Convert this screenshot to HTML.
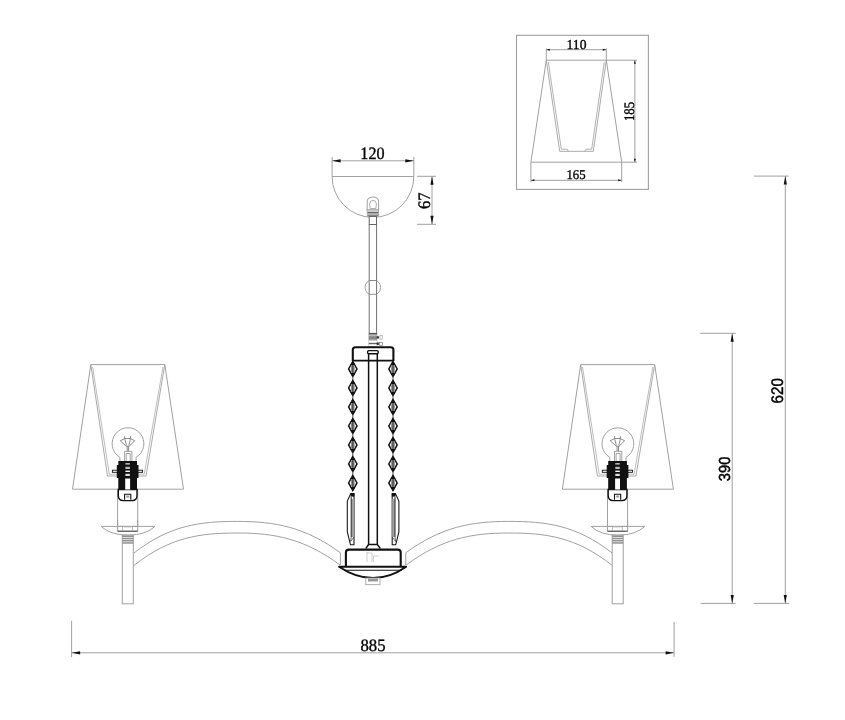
<!DOCTYPE html>
<html><head><meta charset="utf-8"><style>
html,body{margin:0;padding:0;background:#fff;width:845px;height:720px;overflow:hidden}
svg{display:block;will-change:transform}
</style></head><body>
<svg width="845" height="720" viewBox="0 0 845 720">
<rect x="516.5" y="35.3" width="131.9" height="154.1" fill="none" stroke="#a0a0a0" stroke-width="1.1"/>
<line x1="546.3" y1="60.2" x2="606.3" y2="60.2" stroke="#a0a0a0" stroke-width="1"/>
<line x1="530.9" y1="162.2" x2="621.7" y2="162.2" stroke="#a0a0a0" stroke-width="1"/>
<line x1="546.3" y1="60.2" x2="530.9" y2="162.2" stroke="#a0a0a0" stroke-width="1"/>
<line x1="606.3" y1="60.2" x2="621.7" y2="162.2" stroke="#a0a0a0" stroke-width="1"/>
<path d="M546.3,60.2 L559.7,151.3 L593.3,151.3 L606.3,60.2" fill="none" stroke="#a0a0a0" stroke-width="0.9"/>
<path d="M548.3,62 L561.3,149.2 L567.3,149.2 L568.3,151.3 M584.8,151.3 L585.8,149.2 L591.7,149.2 L604.3,62" fill="none" stroke="#a0a0a0" stroke-width="0.8"/>
<line x1="546.3" y1="49.7" x2="606.3" y2="49.7" stroke="#a0a0a0" stroke-width="1"/>
<line x1="546.3" y1="48.3" x2="546.3" y2="60.2" stroke="#a0a0a0" stroke-width="1"/>
<line x1="606.3" y1="48.3" x2="606.3" y2="60.2" stroke="#a0a0a0" stroke-width="1"/>
<path d="M546.3,49.7 L549.8,48.7 L549.8,50.7 Z" fill="#111"/>
<path d="M606.3,49.7 L602.8,48.7 L602.8,50.7 Z" fill="#111"/>
<line x1="530.9" y1="180.3" x2="621.7" y2="180.3" stroke="#a0a0a0" stroke-width="1"/>
<line x1="530.9" y1="162.2" x2="530.9" y2="182" stroke="#a0a0a0" stroke-width="1"/>
<line x1="621.7" y1="162.2" x2="621.7" y2="182" stroke="#a0a0a0" stroke-width="1"/>
<path d="M530.9,180.3 L534.4,179.3 L534.4,181.3 Z" fill="#111"/>
<path d="M621.7,180.3 L618.2,179.3 L618.2,181.3 Z" fill="#111"/>
<line x1="606.3" y1="60.2" x2="637" y2="60.2" stroke="#a0a0a0" stroke-width="1"/>
<line x1="621.7" y1="162.2" x2="637" y2="162.2" stroke="#a0a0a0" stroke-width="1"/>
<line x1="634.9" y1="60.2" x2="634.9" y2="162.2" stroke="#a0a0a0" stroke-width="1"/>
<path d="M634.9,60.2 L633.9,63.7 L635.9,63.7 Z" fill="#111"/>
<path d="M634.9,162.2 L633.9,158.7 L635.9,158.7 Z" fill="#111"/>
<line x1="332.1" y1="176.5" x2="413.8" y2="176.5" stroke="#a0a0a0" stroke-width="1"/>
<path d="M332.1,176.5 A40.85,40.85 0 1 0 413.8,176.5" fill="none" stroke="#a0a0a0" stroke-width="1"/>
<line x1="332.1" y1="160.8" x2="413.8" y2="160.8" stroke="#a0a0a0" stroke-width="1"/>
<line x1="332.1" y1="157" x2="332.1" y2="176.5" stroke="#a0a0a0" stroke-width="1"/>
<line x1="413.8" y1="157" x2="413.8" y2="176.5" stroke="#a0a0a0" stroke-width="1"/>
<path d="M332.1,160.8 L340.6,159.20000000000002 L340.6,162.4 Z" fill="#111"/>
<path d="M413.8,160.8 L405.3,159.20000000000002 L405.3,162.4 Z" fill="#111"/>
<line x1="432" y1="176.3" x2="432" y2="224.3" stroke="#a0a0a0" stroke-width="1"/>
<line x1="417" y1="176.3" x2="436" y2="176.3" stroke="#a0a0a0" stroke-width="1"/>
<line x1="417" y1="224.3" x2="436" y2="224.3" stroke="#a0a0a0" stroke-width="1"/>
<path d="M432,176.3 L430.4,184.8 L433.6,184.8 Z" fill="#111"/>
<path d="M432,224.3 L430.4,215.8 L433.6,215.8 Z" fill="#111"/>
<path d="M367.2,211 L367.2,201 Q367.2,198.5 370,197.5 L373,196.8 L376,197.5 Q378.6,198.5 378.6,201 L378.6,211 Z" fill="#fff" stroke="#a0a0a0" stroke-width="1"/>
<path d="M370.2,208.6 L369.6,204 Q369.8,200.4 373,200.4 Q376.2,200.4 376.4,204 L375.8,208.6 Z" fill="none" stroke="#a0a0a0" stroke-width="0.9"/>
<rect x="367.2" y="209.5" width="11.4" height="6.8" fill="#fff" stroke="#a0a0a0" stroke-width="0.8"/>
<line x1="367.6" y1="211.0" x2="378.2" y2="211.0" stroke="#999" stroke-width="1.0"/>
<line x1="367.6" y1="212.5" x2="378.2" y2="212.5" stroke="#6a6a6a" stroke-width="1.0"/>
<line x1="367.6" y1="213.9" x2="378.2" y2="213.9" stroke="#777" stroke-width="1.0"/>
<line x1="367.6" y1="215.3" x2="378.2" y2="215.3" stroke="#6a6a6a" stroke-width="1.0"/>
<rect x="372" y="220" width="1.5" height="1.5" fill="#999"/>
<rect x="369.2" y="216.5" width="7.3" height="8" fill="#fff" stroke="#666" stroke-width="1"/>
<circle cx="372.8" cy="287.4" r="7.8" fill="#fff" stroke="#a0a0a0" stroke-width="1"/>
<rect x="369.7" y="278" width="6.4" height="2.5" fill="#fff"/>
<rect x="369.7" y="294.6" width="6.4" height="2" fill="#fff"/>
<line x1="369.2" y1="224.5" x2="369.2" y2="333" stroke="#707070" stroke-width="1"/>
<line x1="376.6" y1="224.5" x2="376.6" y2="333" stroke="#707070" stroke-width="1"/>
<line x1="369.2" y1="280.5" x2="376.6" y2="280.5" stroke="#888" stroke-width="1"/>
<line x1="369.2" y1="294.3" x2="376.6" y2="294.3" stroke="#999" stroke-width="1"/>
<rect x="368.8" y="333" width="8.2" height="13.5" fill="#fff" stroke="#bbb" stroke-width="0.6"/>
<rect x="368.8" y="333" width="8.2" height="1.6" fill="#555"/>
<rect x="368.8" y="335.5" width="8.2" height="1.3" fill="#777"/>
<rect x="368.8" y="337.3" width="8.2" height="1.4" fill="#555"/>
<rect x="368.8" y="339.2" width="8.2" height="1.2" fill="#888"/>
<rect x="368.8" y="342.8" width="8.2" height="1.4" fill="#666"/>
<rect x="376.8" y="336.3" width="2.2" height="2.2" fill="#333"/>
<rect x="380" y="335.2" width="2.2" height="4" fill="none" stroke="#999" stroke-width="0.6"/>
<rect x="376.8" y="342.5" width="2" height="2.4" fill="#222"/>
<rect x="379.5" y="342.3" width="3" height="3" fill="none" stroke="#777" stroke-width="0.7"/>
<path d="M352.8,361 L352.8,349.8 Q352.8,347.2 355.4,347.2 L390.8,347.2 Q393.4,347.2 393.4,349.8 L393.4,361" fill="none" stroke="#111" stroke-width="2.1"/>
<line x1="352.8" y1="360.6" x2="393.4" y2="360.6" stroke="#111" stroke-width="1.6"/>
<rect x="367.6" y="350.6" width="10.6" height="3.2" rx="1.2" fill="#fff" stroke="#111" stroke-width="1.4"/>
<line x1="368.6" y1="354" x2="368.6" y2="546" stroke="#111" stroke-width="1.5"/>
<line x1="377.3" y1="354" x2="377.3" y2="546" stroke="#111" stroke-width="1.5"/>
<path d="M352.8,361.5 L357.0,368.9 L352.8,376.5 L348.6,368.9 Z" fill="#fff" stroke="#111" stroke-width="1.5" stroke-linejoin="miter"/>
<ellipse cx="352.8" cy="368.9" rx="1.9" ry="4.8" fill="#8a8a8a"/>
<rect x="352.2" y="364.9" width="1.2" height="8" fill="#444"/>
<path d="M352.8,361.0 L355.2,364.9 L350.40000000000003,364.9 Z" fill="#111"/>
<path d="M352.8,377.0 L355.2,373.1 L350.40000000000003,373.1 Z" fill="#111"/>
<line x1="352.8" y1="376.5" x2="352.8" y2="380.3" stroke="#666" stroke-width="1.1"/>
<path d="M352.8,380.5 L357.0,387.9 L352.8,395.5 L348.6,387.9 Z" fill="#fff" stroke="#111" stroke-width="1.5" stroke-linejoin="miter"/>
<ellipse cx="352.8" cy="387.9" rx="1.9" ry="4.8" fill="#8a8a8a"/>
<rect x="352.2" y="383.9" width="1.2" height="8" fill="#444"/>
<path d="M352.8,380.0 L355.2,383.9 L350.40000000000003,383.9 Z" fill="#111"/>
<path d="M352.8,396.0 L355.2,392.1 L350.40000000000003,392.1 Z" fill="#111"/>
<line x1="352.8" y1="395.5" x2="352.8" y2="399.3" stroke="#666" stroke-width="1.1"/>
<path d="M352.8,399.5 L357.0,406.9 L352.8,414.5 L348.6,406.9 Z" fill="#fff" stroke="#111" stroke-width="1.5" stroke-linejoin="miter"/>
<ellipse cx="352.8" cy="406.9" rx="1.9" ry="4.8" fill="#8a8a8a"/>
<rect x="352.2" y="402.9" width="1.2" height="8" fill="#444"/>
<path d="M352.8,399.0 L355.2,402.9 L350.40000000000003,402.9 Z" fill="#111"/>
<path d="M352.8,415.0 L355.2,411.1 L350.40000000000003,411.1 Z" fill="#111"/>
<line x1="352.8" y1="414.5" x2="352.8" y2="418.3" stroke="#666" stroke-width="1.1"/>
<path d="M352.8,418.5 L357.0,425.9 L352.8,433.5 L348.6,425.9 Z" fill="#fff" stroke="#111" stroke-width="1.5" stroke-linejoin="miter"/>
<ellipse cx="352.8" cy="425.9" rx="1.9" ry="4.8" fill="#8a8a8a"/>
<rect x="352.2" y="421.9" width="1.2" height="8" fill="#444"/>
<path d="M352.8,418.0 L355.2,421.9 L350.40000000000003,421.9 Z" fill="#111"/>
<path d="M352.8,434.0 L355.2,430.1 L350.40000000000003,430.1 Z" fill="#111"/>
<line x1="352.8" y1="433.5" x2="352.8" y2="437.3" stroke="#666" stroke-width="1.1"/>
<path d="M352.8,437.5 L357.0,444.9 L352.8,452.5 L348.6,444.9 Z" fill="#fff" stroke="#111" stroke-width="1.5" stroke-linejoin="miter"/>
<ellipse cx="352.8" cy="444.9" rx="1.9" ry="4.8" fill="#8a8a8a"/>
<rect x="352.2" y="440.9" width="1.2" height="8" fill="#444"/>
<path d="M352.8,437.0 L355.2,440.9 L350.40000000000003,440.9 Z" fill="#111"/>
<path d="M352.8,453.0 L355.2,449.1 L350.40000000000003,449.1 Z" fill="#111"/>
<line x1="352.8" y1="452.5" x2="352.8" y2="456.3" stroke="#666" stroke-width="1.1"/>
<path d="M352.8,456.5 L357.0,463.9 L352.8,471.5 L348.6,463.9 Z" fill="#fff" stroke="#111" stroke-width="1.5" stroke-linejoin="miter"/>
<ellipse cx="352.8" cy="463.9" rx="1.9" ry="4.8" fill="#8a8a8a"/>
<rect x="352.2" y="459.9" width="1.2" height="8" fill="#444"/>
<path d="M352.8,456.0 L355.2,459.9 L350.40000000000003,459.9 Z" fill="#111"/>
<path d="M352.8,472.0 L355.2,468.1 L350.40000000000003,468.1 Z" fill="#111"/>
<line x1="352.8" y1="471.5" x2="352.8" y2="475.3" stroke="#666" stroke-width="1.1"/>
<path d="M352.8,475.5 L357.0,482.9 L352.8,490.5 L348.6,482.9 Z" fill="#fff" stroke="#111" stroke-width="1.5" stroke-linejoin="miter"/>
<ellipse cx="352.8" cy="482.9" rx="1.9" ry="4.8" fill="#8a8a8a"/>
<rect x="352.2" y="478.9" width="1.2" height="8" fill="#444"/>
<path d="M352.8,475.0 L355.2,478.9 L350.40000000000003,478.9 Z" fill="#111"/>
<path d="M352.8,491.0 L355.2,487.1 L350.40000000000003,487.1 Z" fill="#111"/>
<path d="M393.0,361.5 L397.2,368.9 L393.0,376.5 L388.8,368.9 Z" fill="#fff" stroke="#111" stroke-width="1.5" stroke-linejoin="miter"/>
<ellipse cx="393.0" cy="368.9" rx="1.9" ry="4.8" fill="#8a8a8a"/>
<rect x="392.4" y="364.9" width="1.2" height="8" fill="#444"/>
<path d="M393.0,361.0 L395.4,364.9 L390.6,364.9 Z" fill="#111"/>
<path d="M393.0,377.0 L395.4,373.1 L390.6,373.1 Z" fill="#111"/>
<line x1="393.0" y1="376.5" x2="393.0" y2="380.3" stroke="#666" stroke-width="1.1"/>
<path d="M393.0,380.5 L397.2,387.9 L393.0,395.5 L388.8,387.9 Z" fill="#fff" stroke="#111" stroke-width="1.5" stroke-linejoin="miter"/>
<ellipse cx="393.0" cy="387.9" rx="1.9" ry="4.8" fill="#8a8a8a"/>
<rect x="392.4" y="383.9" width="1.2" height="8" fill="#444"/>
<path d="M393.0,380.0 L395.4,383.9 L390.6,383.9 Z" fill="#111"/>
<path d="M393.0,396.0 L395.4,392.1 L390.6,392.1 Z" fill="#111"/>
<line x1="393.0" y1="395.5" x2="393.0" y2="399.3" stroke="#666" stroke-width="1.1"/>
<path d="M393.0,399.5 L397.2,406.9 L393.0,414.5 L388.8,406.9 Z" fill="#fff" stroke="#111" stroke-width="1.5" stroke-linejoin="miter"/>
<ellipse cx="393.0" cy="406.9" rx="1.9" ry="4.8" fill="#8a8a8a"/>
<rect x="392.4" y="402.9" width="1.2" height="8" fill="#444"/>
<path d="M393.0,399.0 L395.4,402.9 L390.6,402.9 Z" fill="#111"/>
<path d="M393.0,415.0 L395.4,411.1 L390.6,411.1 Z" fill="#111"/>
<line x1="393.0" y1="414.5" x2="393.0" y2="418.3" stroke="#666" stroke-width="1.1"/>
<path d="M393.0,418.5 L397.2,425.9 L393.0,433.5 L388.8,425.9 Z" fill="#fff" stroke="#111" stroke-width="1.5" stroke-linejoin="miter"/>
<ellipse cx="393.0" cy="425.9" rx="1.9" ry="4.8" fill="#8a8a8a"/>
<rect x="392.4" y="421.9" width="1.2" height="8" fill="#444"/>
<path d="M393.0,418.0 L395.4,421.9 L390.6,421.9 Z" fill="#111"/>
<path d="M393.0,434.0 L395.4,430.1 L390.6,430.1 Z" fill="#111"/>
<line x1="393.0" y1="433.5" x2="393.0" y2="437.3" stroke="#666" stroke-width="1.1"/>
<path d="M393.0,437.5 L397.2,444.9 L393.0,452.5 L388.8,444.9 Z" fill="#fff" stroke="#111" stroke-width="1.5" stroke-linejoin="miter"/>
<ellipse cx="393.0" cy="444.9" rx="1.9" ry="4.8" fill="#8a8a8a"/>
<rect x="392.4" y="440.9" width="1.2" height="8" fill="#444"/>
<path d="M393.0,437.0 L395.4,440.9 L390.6,440.9 Z" fill="#111"/>
<path d="M393.0,453.0 L395.4,449.1 L390.6,449.1 Z" fill="#111"/>
<line x1="393.0" y1="452.5" x2="393.0" y2="456.3" stroke="#666" stroke-width="1.1"/>
<path d="M393.0,456.5 L397.2,463.9 L393.0,471.5 L388.8,463.9 Z" fill="#fff" stroke="#111" stroke-width="1.5" stroke-linejoin="miter"/>
<ellipse cx="393.0" cy="463.9" rx="1.9" ry="4.8" fill="#8a8a8a"/>
<rect x="392.4" y="459.9" width="1.2" height="8" fill="#444"/>
<path d="M393.0,456.0 L395.4,459.9 L390.6,459.9 Z" fill="#111"/>
<path d="M393.0,472.0 L395.4,468.1 L390.6,468.1 Z" fill="#111"/>
<line x1="393.0" y1="471.5" x2="393.0" y2="475.3" stroke="#666" stroke-width="1.1"/>
<path d="M393.0,475.5 L397.2,482.9 L393.0,490.5 L388.8,482.9 Z" fill="#fff" stroke="#111" stroke-width="1.5" stroke-linejoin="miter"/>
<ellipse cx="393.0" cy="482.9" rx="1.9" ry="4.8" fill="#8a8a8a"/>
<rect x="392.4" y="478.9" width="1.2" height="8" fill="#444"/>
<path d="M393.0,475.0 L395.4,478.9 L390.6,478.9 Z" fill="#111"/>
<path d="M393.0,491.0 L395.4,487.1 L390.6,487.1 Z" fill="#111"/>
<path d="M354,493.6 L350.8,493.6 L347.3,501 L347.3,532 L350.5,544.8 L354,544.8 Z" fill="#fff" stroke="#111" stroke-width="1.05"/>
<rect x="351.4" y="499" width="2.6" height="38" fill="#a0a0a0"/>
<line x1="351.2" y1="497" x2="351.2" y2="537" stroke="#111" stroke-width="0.9"/>
<path d="M351.2,537 L350.6,541.5 L354,537" fill="none" stroke="#333" stroke-width="0.7"/>
<rect x="350.6" y="493.4" width="3.8" height="3.2" fill="#111"/>
<path d="M392.2,493.6 L395.4,493.6 L398.9,501 L398.9,532 L395.7,544.8 L392.2,544.8 Z" fill="#fff" stroke="#111" stroke-width="1.05"/>
<rect x="392.2" y="499" width="2.6" height="38" fill="#a0a0a0"/>
<line x1="395.0" y1="497" x2="395.0" y2="537" stroke="#111" stroke-width="0.9"/>
<path d="M395.0,537 L395.6,541.5 L392.2,537" fill="none" stroke="#333" stroke-width="0.7"/>
<rect x="391.8" y="493.4" width="3.8" height="3.2" fill="#111"/>
<path d="M365.8,548.5 L368.6,544.5 L377.3,544.5 L380.4,548.5" fill="#fff" stroke="#111" stroke-width="1.4"/>
<path d="M345.9,567 L345.9,552.6 Q345.9,549.6 348.9,549.6 L397.7,549.6 Q400.7,549.6 400.7,552.6 L400.7,567" fill="none" stroke="#111" stroke-width="2.1"/>
<path d="M339,566.7 L406.2,566.7 Q390,578 373,578 Q356,578 339,566.7 Z" fill="#fff" stroke="#111" stroke-width="1.9" stroke-linejoin="round"/>
<line x1="344" y1="570.2" x2="402" y2="570.2" stroke="#111" stroke-width="1.1"/>
<rect x="365.8" y="578" width="14.2" height="6.7" fill="#fff" stroke="#999" stroke-width="0.8"/>
<rect x="368" y="578.5" width="10" height="3" fill="#999"/>
<path d="M367,552 L367,562 M367,553 L372,553 M372,553 L372,562 M373.5,556 L373.5,562 M373.5,556 L379,556" fill="none" stroke="#bbb" stroke-width="0.7"/>
<path d="M134,553 C170,525 200,521.4 237.7,521.4 C275,521.4 305,527 340,552.5" fill="none" stroke="#a0a0a0" stroke-width="1"/>
<path d="M134,565.4 C170,537 200,533 237.7,533 C275,533 305,539 340,565" fill="none" stroke="#a0a0a0" stroke-width="1"/>
<line x1="340.4" y1="552.5" x2="340.4" y2="565" stroke="#a0a0a0" stroke-width="1"/>
<path d="M612.2,553 C576.2,525 546.2,521.4 508.50000000000006,521.4 C471.20000000000005,521.4 441.20000000000005,527 406.20000000000005,552.5" fill="none" stroke="#a0a0a0" stroke-width="1"/>
<path d="M612.2,565.4 C576.2,537 546.2,533 508.50000000000006,533 C471.20000000000005,533 441.20000000000005,539 406.20000000000005,565" fill="none" stroke="#a0a0a0" stroke-width="1"/>
<line x1="405.80000000000007" y1="552.5" x2="405.80000000000007" y2="565" stroke="#a0a0a0" stroke-width="1"/>
<line x1="90.8" y1="364.6" x2="164.8" y2="364.6" stroke="#a0a0a0" stroke-width="1"/>
<line x1="72.5" y1="489.2" x2="183.5" y2="489.2" stroke="#a0a0a0" stroke-width="1"/>
<line x1="90.8" y1="364.6" x2="72.5" y2="489.2" stroke="#a0a0a0" stroke-width="1"/>
<line x1="164.8" y1="364.6" x2="183.5" y2="489.2" stroke="#a0a0a0" stroke-width="1"/>
<path d="M90.8,364.6 L107.5,476 L146,476 L164.8,364.6" fill="none" stroke="#a0a0a0" stroke-width="0.9"/>
<path d="M92.6,367 L109.3,474.2 L144.2,474.2 L163,367" fill="none" stroke="#a0a0a0" stroke-width="0.7"/>
<path d="M119.9,461 L119.9,457.4 A15.9,15.9 0 1 1 136.1,457.4 L136.1,461" fill="none" stroke="#a0a0a0" stroke-width="1"/>
<path d="M124.7,436.2 L124.7,438.5 L120.3,440.8 L126.3,446.2 L129.2,446.2 L134.7,440.8 L130.5,438.5 L130.5,436.2 M124.7,438.5 L130.5,438.5 M124.7,438.7 L126.5,445.5 M130.5,438.7 L128.9,445.5 M127.2,446.2 L127.2,451.2 M128.6,446.2 L128.6,451.2" fill="none" stroke="#777" stroke-width="0.85"/>
<path d="M124.6,461 L124.6,451.4 L131.9,451.4 L131.9,461 M126.2,461 L126.2,453.5 L130.2,453.5 L130.2,461" fill="none" stroke="#8a8a8a" stroke-width="0.8"/>
<rect x="117.6" y="490" width="20.1" height="41.4" fill="#fff" stroke="#a0a0a0" stroke-width="1"/>
<rect x="112.4" y="470.2" width="30.2" height="2.1" fill="#fff" stroke="#111" stroke-width="0.9"/>
<path d="M118.3,461 L137,461 L137,465 L138.5,465 L138.5,478 L137,478 L137,490 L118.3,490 L118.3,478 L116.8,478 L116.8,465 L118.3,465 Z" fill="#111"/>
<path d="M118.3,489.5 L137,489.5 L137,495.5 Q137,500.6 132,500.6 L123.3,500.6 Q118.3,500.6 118.3,495.5 Z" fill="#fff" stroke="#111" stroke-width="1.4"/>
<rect x="125.2" y="478.5" width="4.9" height="11" fill="#fff"/>
<rect x="125.4" y="463.2" width="4.5" height="1.3" fill="#ddd"/>
<rect x="125.4" y="466.8" width="4.5" height="2.2" fill="#bbb"/>
<rect x="125.4" y="470.6" width="4.5" height="1.4" fill="#fff"/>
<rect x="125.4" y="473.8" width="4.5" height="2.2" fill="#e0e0e0"/>
<path d="M124.6,499.8 L124.6,494.2 L130.8,494.2 L130.8,499.8" fill="none" stroke="#111" stroke-width="1.1"/>
<rect x="126.3" y="495.5" width="3" height="2" fill="#999"/>
<path d="M101.2,526.4 L155,526.4 Q146,535 128.1,535.2 Q110,535 101.2,526.4 Z" fill="#fff" stroke="#a0a0a0" stroke-width="1"/>
<rect x="117.6" y="527" width="20.1" height="4.4" fill="#fff"/>
<line x1="117.6" y1="520" x2="117.6" y2="531.4" stroke="#a0a0a0" stroke-width="1"/>
<line x1="137.7" y1="520" x2="137.7" y2="531.4" stroke="#a0a0a0" stroke-width="1"/>
<line x1="117.6" y1="531.2" x2="137.7" y2="531.2" stroke="#444" stroke-width="1.2"/>
<line x1="117.6" y1="526.4" x2="137.7" y2="526.4" stroke="#a0a0a0" stroke-width="1"/>
<line x1="122.5" y1="527" x2="122.5" y2="531" stroke="#aaa" stroke-width="0.8"/>
<line x1="132.4" y1="527" x2="132.4" y2="531" stroke="#aaa" stroke-width="0.8"/>
<path d="M123.5,527 L131.5,527" stroke="#bbb" stroke-width="0.8"/>
<rect x="122.3" y="535.2" width="11" height="68.6" fill="#fff" stroke="#a0a0a0" stroke-width="1"/>
<rect x="122.3" y="535.6" width="11" height="1.5" fill="#909090"/>
<rect x="122.3" y="537.8000000000001" width="11" height="1.5" fill="#909090"/>
<rect x="122.3" y="540.0" width="11" height="1.5" fill="#909090"/>
<rect x="122.3" y="542.2" width="11" height="1.5" fill="#909090"/>
<line x1="580.7" y1="364.6" x2="654.7" y2="364.6" stroke="#a0a0a0" stroke-width="1"/>
<line x1="562.4" y1="489.2" x2="673.4" y2="489.2" stroke="#a0a0a0" stroke-width="1"/>
<line x1="580.7" y1="364.6" x2="562.4" y2="489.2" stroke="#a0a0a0" stroke-width="1"/>
<line x1="654.7" y1="364.6" x2="673.4" y2="489.2" stroke="#a0a0a0" stroke-width="1"/>
<path d="M580.7,364.6 L597.4,476 L635.9,476 L654.7,364.6" fill="none" stroke="#a0a0a0" stroke-width="0.9"/>
<path d="M582.5,367 L599.2,474.2 L634.1,474.2 L652.9,367" fill="none" stroke="#a0a0a0" stroke-width="0.7"/>
<path d="M609.8,461 L609.8,457.4 A15.9,15.9 0 1 1 626.0,457.4 L626.0,461" fill="none" stroke="#a0a0a0" stroke-width="1"/>
<path d="M614.6,436.2 L614.6,438.5 L610.2,440.8 L616.2,446.2 L619.1,446.2 L624.6,440.8 L620.4,438.5 L620.4,436.2 M614.6,438.5 L620.4,438.5 M614.6,438.7 L616.4,445.5 M620.4,438.7 L618.8,445.5 M617.1,446.2 L617.1,451.2 M618.5,446.2 L618.5,451.2" fill="none" stroke="#777" stroke-width="0.85"/>
<path d="M614.5,461 L614.5,451.4 L621.8,451.4 L621.8,461 M616.1,461 L616.1,453.5 L620.1,453.5 L620.1,461" fill="none" stroke="#8a8a8a" stroke-width="0.8"/>
<rect x="607.5" y="490" width="20.1" height="41.4" fill="#fff" stroke="#a0a0a0" stroke-width="1"/>
<rect x="602.3" y="470.2" width="30.2" height="2.1" fill="#fff" stroke="#111" stroke-width="0.9"/>
<path d="M608.2,461 L626.9,461 L626.9,465 L628.4,465 L628.4,478 L626.9,478 L626.9,490 L608.2,490 L608.2,478 L606.7,478 L606.7,465 L608.2,465 Z" fill="#111"/>
<path d="M608.2,489.5 L626.9,489.5 L626.9,495.5 Q626.9,500.6 621.9,500.6 L613.2,500.6 Q608.2,500.6 608.2,495.5 Z" fill="#fff" stroke="#111" stroke-width="1.4"/>
<rect x="615.1" y="478.5" width="4.9" height="11" fill="#fff"/>
<rect x="615.3" y="463.2" width="4.5" height="1.3" fill="#ddd"/>
<rect x="615.3" y="466.8" width="4.5" height="2.2" fill="#bbb"/>
<rect x="615.3" y="470.6" width="4.5" height="1.4" fill="#fff"/>
<rect x="615.3" y="473.8" width="4.5" height="2.2" fill="#e0e0e0"/>
<path d="M614.5,499.8 L614.5,494.2 L620.7,494.2 L620.7,499.8" fill="none" stroke="#111" stroke-width="1.1"/>
<rect x="616.2" y="495.5" width="3" height="2" fill="#999"/>
<path d="M591.1,526.4 L644.9,526.4 Q635.9,535 618.0,535.2 Q599.9,535 591.1,526.4 Z" fill="#fff" stroke="#a0a0a0" stroke-width="1"/>
<rect x="607.5" y="527" width="20.1" height="4.4" fill="#fff"/>
<line x1="607.5" y1="520" x2="607.5" y2="531.4" stroke="#a0a0a0" stroke-width="1"/>
<line x1="627.6" y1="520" x2="627.6" y2="531.4" stroke="#a0a0a0" stroke-width="1"/>
<line x1="607.5" y1="531.2" x2="627.6" y2="531.2" stroke="#444" stroke-width="1.2"/>
<line x1="607.5" y1="526.4" x2="627.6" y2="526.4" stroke="#a0a0a0" stroke-width="1"/>
<line x1="612.4" y1="527" x2="612.4" y2="531" stroke="#aaa" stroke-width="0.8"/>
<line x1="622.3" y1="527" x2="622.3" y2="531" stroke="#aaa" stroke-width="0.8"/>
<path d="M613.4,527 L621.4,527" stroke="#bbb" stroke-width="0.8"/>
<rect x="612.2" y="535.2" width="11" height="68.6" fill="#fff" stroke="#a0a0a0" stroke-width="1"/>
<rect x="612.2" y="535.6" width="11" height="1.5" fill="#909090"/>
<rect x="612.2" y="537.8000000000001" width="11" height="1.5" fill="#909090"/>
<rect x="612.2" y="540.0" width="11" height="1.5" fill="#909090"/>
<rect x="612.2" y="542.2" width="11" height="1.5" fill="#909090"/>
<line x1="71.6" y1="652.8" x2="674.1" y2="652.8" stroke="#a0a0a0" stroke-width="1"/>
<line x1="71.6" y1="620.7" x2="71.6" y2="657" stroke="#a0a0a0" stroke-width="1"/>
<line x1="674.1" y1="622" x2="674.1" y2="656.8" stroke="#a0a0a0" stroke-width="1"/>
<path d="M71.6,652.8 L80.1,651.1999999999999 L80.1,654.4 Z" fill="#111"/>
<path d="M674.1,652.8 L665.6,651.1999999999999 L665.6,654.4 Z" fill="#111"/>
<line x1="732.2" y1="333.3" x2="732.2" y2="603.4" stroke="#a0a0a0" stroke-width="1"/>
<line x1="700" y1="333.3" x2="735.8" y2="333.3" stroke="#a0a0a0" stroke-width="1"/>
<line x1="700.8" y1="603.4" x2="735.5" y2="603.4" stroke="#a0a0a0" stroke-width="1"/>
<path d="M732.2,333.3 L730.6,341.8 L733.8000000000001,341.8 Z" fill="#111"/>
<path d="M732.2,603.4 L730.6,594.9 L733.8000000000001,594.9 Z" fill="#111"/>
<line x1="785.3" y1="176.1" x2="785.3" y2="603.4" stroke="#a0a0a0" stroke-width="1"/>
<line x1="753.9" y1="176.1" x2="788.6" y2="176.1" stroke="#a0a0a0" stroke-width="1"/>
<line x1="753.7" y1="603.4" x2="789.3" y2="603.4" stroke="#a0a0a0" stroke-width="1"/>
<path d="M785.3,176.1 L783.6999999999999,184.6 L786.9,184.6 Z" fill="#111"/>
<path d="M785.3,603.4 L783.6999999999999,594.9 L786.9,594.9 Z" fill="#111"/>
<text transform="translate(576.5,48.8) scale(1.0,1)" font-family="Liberation Serif" fill="#000" stroke="#000" stroke-width="0.35" font-size="13.6" text-rendering="geometricPrecision" text-anchor="middle">110</text>
<text transform="translate(576.0,178.9) scale(0.955,1)" font-family="Liberation Serif" fill="#000" stroke="#000" stroke-width="0.35" font-size="13.4" text-rendering="geometricPrecision" text-anchor="middle">165</text>
<text transform="translate(633.9,111.4) rotate(-90) scale(0.89,1)" font-family="Liberation Serif" fill="#000" stroke="#000" stroke-width="0.35" font-size="14.5" text-rendering="geometricPrecision" text-anchor="middle">185</text>
<text transform="translate(372.5,158.5) scale(0.93,1)" font-family="Liberation Serif" fill="#000" stroke="#000" stroke-width="0.35" font-size="17.4" text-rendering="geometricPrecision" text-anchor="middle">120</text>
<text transform="translate(430,200.8) rotate(-90) scale(0.95,1)" font-family="Liberation Serif" fill="#000" stroke="#000" stroke-width="0.35" font-size="17.5" text-rendering="geometricPrecision" text-anchor="middle">67</text>
<text transform="translate(373,650.5) scale(0.96,1)" font-family="Liberation Serif" fill="#000" stroke="#000" stroke-width="0.35" font-size="17.4" text-rendering="geometricPrecision" text-anchor="middle">885</text>
<text transform="translate(729.8,468.9) rotate(-90) scale(0.92,1)" font-family="Liberation Sans" fill="#000" stroke="#000" stroke-width="0.45" font-size="16.0" text-rendering="geometricPrecision" text-anchor="middle">390</text>
<text transform="translate(783.3,390.8) rotate(-90) scale(0.91,1)" font-family="Liberation Sans" fill="#000" stroke="#000" stroke-width="0.45" font-size="16.7" text-rendering="geometricPrecision" text-anchor="middle">620</text>
</svg>
</body></html>
